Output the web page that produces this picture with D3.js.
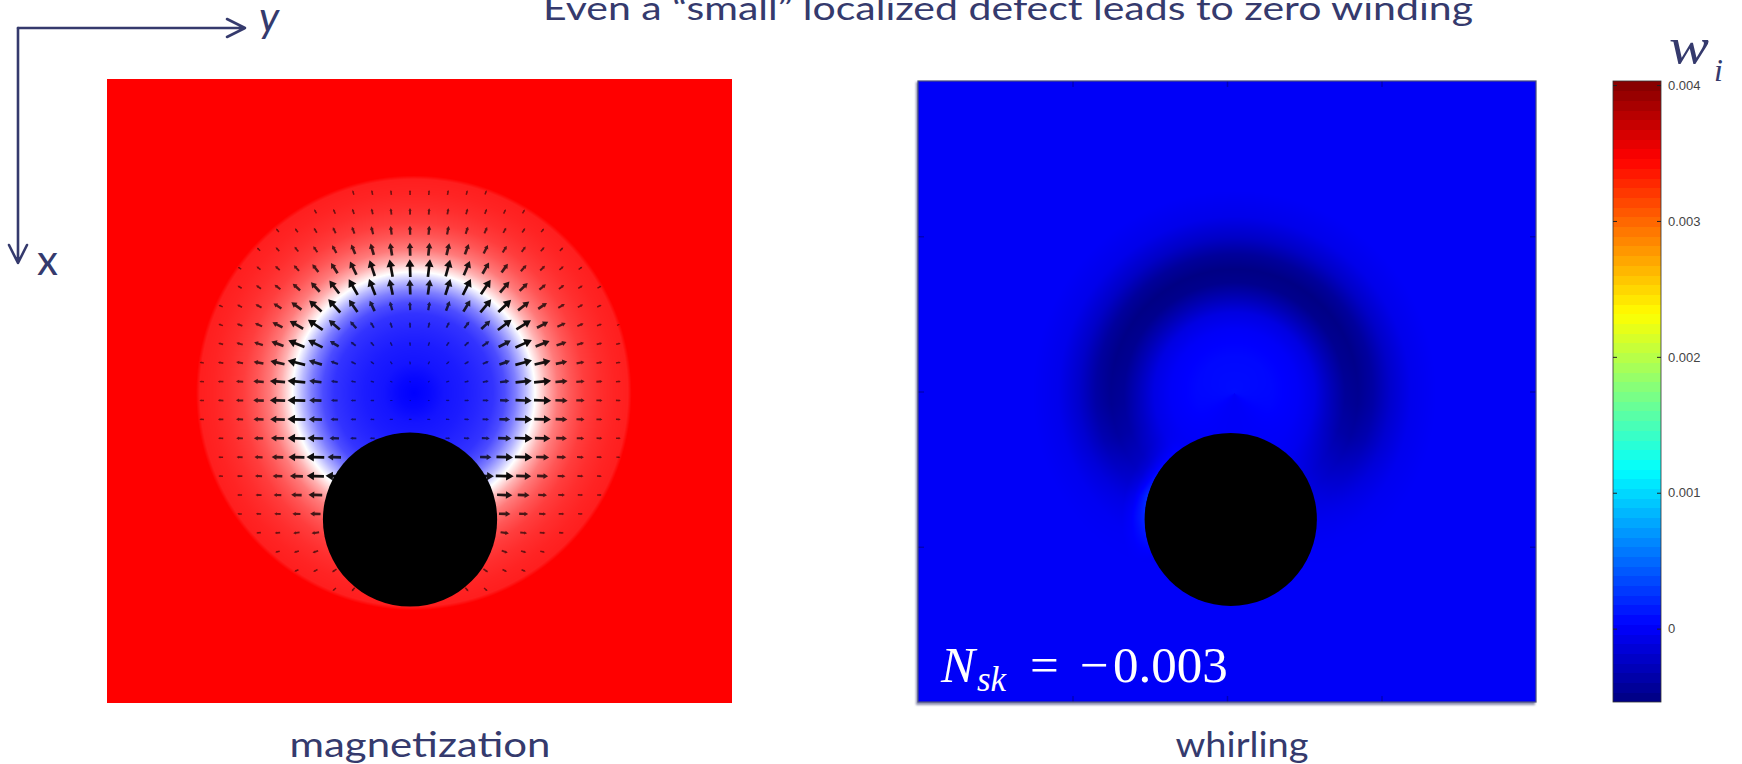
<!DOCTYPE html>
<html>
<head>
<meta charset="utf-8">
<script src="https://cdn.jsdelivr.net/npm/d3@7"></script>
<style>
  html, body { margin: 0; padding: 0; background: #fff; }
  svg { display: block; }
</style>
</head>
<body>
<script>
// ---------------- data ----------------
const titleText = "Even a “small” localized defect leads to zero winding";
const panelLabels = ["magnetization", "whirling"];
const axisNames = ["x", "y"];
const colorbarTicks = [0, 0.001, 0.002, 0.003, 0.004];
const colorbarRange = [-0.00054, 0.00403];
const nSk = -0.003;

// lattice window shown in each panel (x runs down, y runs right)
const windowX = [0, 33];
const windowYMag = [0, 33];
const windowYWhirl = [-0.7, 32.3];

// skyrmion centre, pinning defect and simulated disk (lattice units)
const skyrmionCenter = [16.6, 16.2];   // [x, y]
const defectCenter = [23.3, 16.0];     // [x, y]
const defectRadius = 4.6;
const diskRadius = 11.4;

// radial profile of m_z around the skyrmion centre
const mzRadius = [0, 0.8, 1.6, 2.6, 3.4, 4.2, 4.8, 5.4, 5.9, 6.4, 7.0, 7.6, 8.3, 9.0, 9.8, 10.6, 11.3, 11.5, 30];
const mzValue  = [-1, -0.97, -0.92, -0.89, -0.85, -0.8, -0.7, -0.5, -0.27, 0, 0.3, 0.52, 0.66, 0.76, 0.82, 0.86, 0.88, 1, 1];

// whirling density: radial ring profile and angular envelope (0° = up, 180° = towards the defect)
const wRadius = [0, 2, 3.4, 4.3, 5.1, 5.9, 6.6, 7.4, 8.3, 9.4, 10.8, 30];
const wRing   = [0.00008, 0.00006, 0, -0.0001, -0.0003, -0.00048, -0.00052, -0.00042, -0.00022, -0.00006, 0, 0];
const wAngle    = [0, 40, 75, 95, 110, 125, 140, 155, 170, 180];
const wEnvelope = [1, 1, 0.95, 0.88, 0.75, 0.5, 0.25, 0.08, 0, 0];

// positive rim on the upper-left edge of the defect
const rimDistance = [0, 0.3, 0.7, 1.2, 10];
const rimValue    = [0.00035, 0.00022, 0.00008, 0, 0];
const rimAngle    = [-25, 0, 15, 35, 60];   // degrees from -y, positive towards -x
const rimEnvelope = [0, 0.7, 1, 0.6, 0];

// ---------------- layout ----------------
const W = 1742, H = 764;
const navy = "#353a6d";
const magBox   = { x0: 107, x1: 732, y0: 79, y1: 703 };
const whirlBox = { x0: 918, x1: 1536, y0: 81, y1: 702 };
const cbBox    = { x0: 1613, x1: 1661, y0: 81, y1: 702 };

const svg = d3.select("body").append("svg")
  .attr("width", W).attr("height", H)
  .attr("viewBox", `0 0 ${W} ${H}`);

const defs = svg.append("defs");
defs.append("filter").attr("id", "soft")
  .append("feGaussianBlur").attr("stdDeviation", 0.55);
defs.append("filter").attr("id", "shadow")
  .append("feGaussianBlur").attr("stdDeviation", 1.2);

// ---------------- scales ----------------
const magY = d3.scaleLinear(windowYMag, [magBox.x0, magBox.x1]);
const magX = d3.scaleLinear(windowX, [magBox.y0, magBox.y1]);
const whY  = d3.scaleLinear(windowYWhirl, [whirlBox.x0, whirlBox.x1]);
const whX  = d3.scaleLinear(windowX, [whirlBox.y0, whirlBox.y1]);

const mzOfR = d3.scaleLinear(mzRadius, mzValue).clamp(true);
const ringOfR = d3.scaleLinear(wRadius, wRing).clamp(true);
const envOfAngle = d3.scaleLinear(wAngle, wEnvelope).clamp(true);
const rimOfD = d3.scaleLinear(rimDistance, rimValue).clamp(true);
const rimOfAngle = d3.scaleLinear(rimAngle, rimEnvelope).clamp(true);

const rwb = d3.scaleLinear([-1, 0, 1], ["#0000ff", "#ffffff", "#ff0000"]).clamp(true);
const jet = d3.scaleLinear([0, 0.125, 0.375, 0.625, 0.875, 1],
  ["#000080", "#0000ff", "#00ffff", "#ffff00", "#ff0000", "#800000"]).clamp(true);
const wNorm = d3.scaleLinear(colorbarRange, [0, 1]).clamp(true);

// colour look-up tables built from the scales
function buildLut(colorFn, lo, hi, n) {
  const lut = new Uint8ClampedArray(n * 3);
  for (let k = 0; k < n; k++) {
    const c = d3.rgb(colorFn(lo + (hi - lo) * k / (n - 1)));
    lut[3 * k] = c.r; lut[3 * k + 1] = c.g; lut[3 * k + 2] = c.b;
  }
  return lut;
}
const N_LUT = 2048;
const mzLut = buildLut(rwb, -1, 1, N_LUT);
const wLut = buildLut(v => jet(wNorm(v)), colorbarRange[0], colorbarRange[1], N_LUT);

// field values
function mzAt(x, y) {
  return mzOfR(Math.hypot(x - skyrmionCenter[0], y - skyrmionCenter[1]));
}
function whirlAt(x, y) {
  const dx = x - skyrmionCenter[0], dy = y - skyrmionCenter[1];
  const r = Math.hypot(dx, dy);
  const phi = r > 1e-9 ? Math.acos(Math.max(-1, Math.min(1, -dx / r))) * 180 / Math.PI : 0;
  let w = ringOfR(r) * envOfAngle(phi);
  const ex = x - defectCenter[0], ey = y - defectCenter[1];
  const d = Math.hypot(ex, ey) - defectRadius;
  if (d >= 0) {
    const psi = Math.atan2(-ex, -ey) * 180 / Math.PI;
    w += rimOfD(d) * rimOfAngle(psi);
  }
  return w;
}

// rasterise a field into an image placed through the panel scales
function fieldImage(box, sy, sx, valueFn, lut, lo, hi) {
  const w = Math.round(box.x1 - box.x0), h = Math.round(box.y1 - box.y0);
  const canvas = document.createElement("canvas");
  canvas.width = w; canvas.height = h;
  const ctx = canvas.getContext("2d");
  const img = ctx.createImageData(w, h);
  const k = (N_LUT - 1) / (hi - lo);
  for (let py = 0; py < h; py++) {
    const x = sx.invert(box.y0 + py + 0.5);
    for (let px = 0; px < w; px++) {
      const y = sy.invert(box.x0 + px + 0.5);
      const v = valueFn(x, y);
      const idx = Math.max(0, Math.min(N_LUT - 1, Math.round((v - lo) * k)));
      const o = 4 * (py * w + px);
      img.data[o] = lut[3 * idx];
      img.data[o + 1] = lut[3 * idx + 1];
      img.data[o + 2] = lut[3 * idx + 2];
      img.data[o + 3] = 255;
    }
  }
  ctx.putImageData(img, 0, 0);
  return canvas.toDataURL("image/png");
}

// ---------------- title and axis sketch ----------------
svg.append("text")
  .attr("x", 1008).attr("y", 20)
  .attr("text-anchor", "middle")
  .attr("textLength", 930).attr("lengthAdjust", "spacingAndGlyphs")
  .style("font-family", "Lato, 'Open Sans', sans-serif")
  .style("font-size", "32px")
  .attr("fill", navy)
  .text(titleText);

const axesG = svg.append("g")
  .attr("fill", "none").attr("stroke", navy)
  .attr("stroke-width", 2.6).attr("stroke-linecap", "round").attr("stroke-linejoin", "round");
axesG.append("path").attr("d", "M18,28 H245 M227,19 L245,28 L227,37");
axesG.append("path").attr("d", "M18,28 V263 M9,245 L18,263 L27,245");

svg.append("text").attr("x", 259).attr("y", 32)
  .style("font-family", "Lato, 'Open Sans', sans-serif")
  .style("font-size", "42px").style("font-style", "italic")
  .attr("fill", navy).text(axisNames[1]);
svg.append("text").attr("x", 37).attr("y", 275)
  .style("font-family", "Lato, 'Open Sans', sans-serif")
  .style("font-size", "42px")
  .attr("fill", navy).text(axisNames[0]);

// ---------------- magnetization panel ----------------
const magG = svg.append("g");
magG.append("image")
  .attr("x", magBox.x0).attr("y", magBox.y0)
  .attr("width", magBox.x1 - magBox.x0).attr("height", magBox.y1 - magBox.y0)
  .attr("preserveAspectRatio", "none")
  .attr("href", fieldImage(magBox, magY, magX, mzAt, mzLut, -1, 1));

// in-plane arrows on the lattice sites
const lengthOfInPlane = d3.scalePow().exponent(2.2).domain([0, 1]).range([1.2, 18]);
const opacityOfInPlane = d3.scalePow().exponent(1.6).domain([0, 1]).range([0.35, 0.95]);
const sites = [];
for (let i = Math.ceil(windowX[0]); i <= windowX[1]; i++) {
  for (let j = Math.ceil(windowYMag[0]); j <= windowYMag[1]; j++) {
    const r = Math.hypot(i - skyrmionCenter[0], j - skyrmionCenter[1]);
    if (r >= diskRadius) continue;
    if (Math.hypot(i - defectCenter[0], j - defectCenter[1]) < defectRadius) continue;
    // direction: away from the nearest point of the centre–defect axis
    const ax = defectCenter[0] - skyrmionCenter[0], ay = defectCenter[1] - skyrmionCenter[1];
    let t = ((i - skyrmionCenter[0]) * ax + (j - skyrmionCenter[1]) * ay) / (ax * ax + ay * ay);
    t = Math.max(0, Math.min(1, t));
    const ux = i - (skyrmionCenter[0] + t * ax), uy = j - (skyrmionCenter[1] + t * ay);
    const un = Math.hypot(ux, uy);
    if (un < 1e-6) continue;
    const mz = mzAt(i, j);
    const inPlane = Math.sqrt(Math.max(0, 1 - mz * mz));
    sites.push({ x: i, y: j, ux: ux / un, uy: uy / un, inPlane });
  }
}

function arrowPath(d) {
  const cx = magY(d.y), cy = magX(d.x);
  const L = lengthOfInPlane(d.inPlane);
  const dxp = d.uy, dyp = d.ux;           // screen direction
  const tx = cx - dxp * L / 2, ty = cy - dyp * L / 2;
  const hx = cx + dxp * L / 2, hy = cy + dyp * L / 2;
  const hl = Math.max(1.3, 0.42 * L), hw = Math.max(1.6, 0.5 * L);
  const sw = Math.min(1.35, 0.35 + 0.09 * L);
  const bx = hx - dxp * hl, by = hy - dyp * hl;
  const px = -dyp, py = dxp;
  const p = d3.path();
  p.moveTo(tx - px * sw, ty - py * sw);
  p.lineTo(bx - px * sw, by - py * sw);
  p.lineTo(bx - px * hw / 2, by - py * hw / 2);
  p.lineTo(hx, hy);
  p.lineTo(bx + px * hw / 2, by + py * hw / 2);
  p.lineTo(bx + px * sw, by + py * sw);
  p.lineTo(tx + px * sw, ty + py * sw);
  p.closePath();
  return p.toString();
}

magG.append("g").attr("filter", "url(#soft)")
  .selectAll("path").data(sites).join("path")
  .attr("d", arrowPath)
  .attr("fill", "#000")
  .attr("fill-opacity", d => opacityOfInPlane(d.inPlane));

magG.append("ellipse")
  .attr("cx", magY(defectCenter[1])).attr("cy", magX(defectCenter[0]))
  .attr("rx", magY(defectCenter[1] + defectRadius) - magY(defectCenter[1]))
  .attr("ry", magX(defectCenter[0] + defectRadius) - magX(defectCenter[0]))
  .attr("fill", "#000");

// ---------------- whirling panel ----------------
const whG = svg.append("g");
whG.append("rect")
  .attr("x", whirlBox.x0 - 2).attr("y", whirlBox.y0 + 1)
  .attr("width", whirlBox.x1 - whirlBox.x0 + 1).attr("height", whirlBox.y1 - whirlBox.y0 + 2)
  .attr("fill", "#8d90b0").attr("filter", "url(#shadow)");
whG.append("image")
  .attr("x", whirlBox.x0).attr("y", whirlBox.y0)
  .attr("width", whirlBox.x1 - whirlBox.x0).attr("height", whirlBox.y1 - whirlBox.y0)
  .attr("preserveAspectRatio", "none")
  .attr("href", fieldImage(whirlBox, whY, whX, whirlAt, wLut, colorbarRange[0], colorbarRange[1]));

// faint frame ticks at the quarters
const quarterH = d3.scaleLinear([0, 4], [whirlBox.x0, whirlBox.x1]);
const quarterV = d3.scaleLinear([0, 4], [whirlBox.y0, whirlBox.y1]);
const tickStyle = g => g.call(s => s.select(".domain").remove())
  .call(s => s.selectAll("line").attr("stroke", "rgba(0,0,70,0.35)").attr("stroke-width", 1.5));
whG.append("g").attr("transform", `translate(0,${whirlBox.y1})`)
  .call(d3.axisBottom(quarterH).tickValues([1, 2, 3]).tickSize(-6).tickFormat("")).call(tickStyle);
whG.append("g").attr("transform", `translate(0,${whirlBox.y0})`)
  .call(d3.axisTop(quarterH).tickValues([1, 2, 3]).tickSize(-6).tickFormat("")).call(tickStyle);
whG.append("g").attr("transform", `translate(${whirlBox.x0},0)`)
  .call(d3.axisLeft(quarterV).tickValues([1, 2, 3]).tickSize(-6).tickFormat("")).call(tickStyle);
whG.append("g").attr("transform", `translate(${whirlBox.x1},0)`)
  .call(d3.axisRight(quarterV).tickValues([1, 2, 3]).tickSize(-6).tickFormat("")).call(tickStyle);

whG.append("ellipse")
  .attr("cx", whY(defectCenter[1])).attr("cy", whX(defectCenter[0]))
  .attr("rx", whY(defectCenter[1] + defectRadius) - whY(defectCenter[1]))
  .attr("ry", whX(defectCenter[0] + defectRadius) - whX(defectCenter[0]))
  .attr("fill", "#000");

whG.append("rect")
  .attr("x", whirlBox.x0).attr("y", whirlBox.y0)
  .attr("width", whirlBox.x1 - whirlBox.x0).attr("height", whirlBox.y1 - whirlBox.y0)
  .attr("fill", "none").attr("stroke", "#4a4e7e").attr("stroke-width", 1.2);

// topological charge annotation
const nskParts = d3.format(".3f")(Math.abs(nSk));
const nsk = whG.append("text").attr("y", 682).attr("fill", "#fff")
  .style("font-family", "'Liberation Serif', 'DejaVu Serif', serif")
  .style("font-size", "51px");
nsk.append("tspan").attr("x", 941).style("font-style", "italic").text("N");
nsk.append("tspan").attr("x", 977).attr("dy", 9).style("font-style", "italic").style("font-size", "35px").text("sk");
nsk.append("tspan").attr("x", 1030).attr("dy", -9).text("=");
nsk.append("tspan").attr("x", 1080).text(nSk < 0 ? "\u2212" : "");
nsk.append("tspan").attr("x", 1113).text(nskParts);

// ---------------- colour bar ----------------
const cbScale = d3.scaleLinear(colorbarRange, [cbBox.y1, cbBox.y0]);
const nLevels = 64;
const levelStep = (colorbarRange[1] - colorbarRange[0]) / nLevels;
const levels = d3.range(nLevels).map(k => colorbarRange[0] + k * levelStep);
const cbG = svg.append("g");
cbG.append("g").attr("shape-rendering", "crispEdges")
  .selectAll("rect").data(levels).join("rect")
  .attr("x", cbBox.x0).attr("width", cbBox.x1 - cbBox.x0)
  .attr("y", d => Math.floor(cbScale(d + levelStep)))
  .attr("height", d => Math.ceil(cbScale(d)) - Math.floor(cbScale(d + levelStep)))
  .attr("fill", d => jet(wNorm(d + levelStep / 2)));
cbG.append("rect")
  .attr("x", cbBox.x0).attr("y", cbBox.y0)
  .attr("width", cbBox.x1 - cbBox.x0).attr("height", cbBox.y1 - cbBox.y0)
  .attr("fill", "none").attr("stroke", "#333").attr("stroke-width", 0.8);

const cbFmt = d => d === 0 ? "0" : d3.format(".3f")(d);
cbG.append("g").attr("transform", `translate(${cbBox.x1},0)`)
  .call(d3.axisRight(cbScale).tickValues(colorbarTicks).tickSize(-4).tickPadding(7).tickFormat(cbFmt))
  .call(g => g.select(".domain").remove())
  .call(g => g.selectAll("line").attr("stroke", "#222"))
  .call(g => g.selectAll("text")
    .style("font-family", "'Liberation Sans', Arial, sans-serif")
    .style("font-size", "13px").attr("fill", "#444"));
cbG.append("g").attr("transform", `translate(${cbBox.x0},0)`)
  .call(d3.axisLeft(cbScale).tickValues(colorbarTicks).tickSize(-4).tickFormat(""))
  .call(g => g.select(".domain").remove())
  .call(g => g.selectAll("line").attr("stroke", "#222"));

svg.append("text").attr("x", 1669).attr("y", 63)
  .attr("textLength", 40).attr("lengthAdjust", "spacingAndGlyphs")
  .style("font-family", "'Liberation Serif', 'DejaVu Serif', serif")
  .style("font-size", "50px").style("font-style", "italic")
  .attr("fill", navy).text("w");
svg.append("text").attr("x", 1714).attr("y", 81)
  .style("font-family", "'Liberation Serif', 'DejaVu Serif', serif")
  .style("font-size", "32px").style("font-style", "italic")
  .attr("fill", navy).text("i");

// ---------------- panel captions ----------------
const captionX = [420, 1242];
svg.selectAll("text.caption").data(panelLabels).join("text")
  .attr("class", "caption")
  .attr("x", (d, i) => captionX[i]).attr("y", 757)
  .attr("text-anchor", "middle")
  .attr("textLength", (d, i) => [261, 133][i]).attr("lengthAdjust", "spacingAndGlyphs")
  .style("font-family", "Lato, 'Open Sans', sans-serif")
  .style("font-size", "35px")
  .attr("fill", navy)
  .text(d => d);
</script>
</body>
</html>
